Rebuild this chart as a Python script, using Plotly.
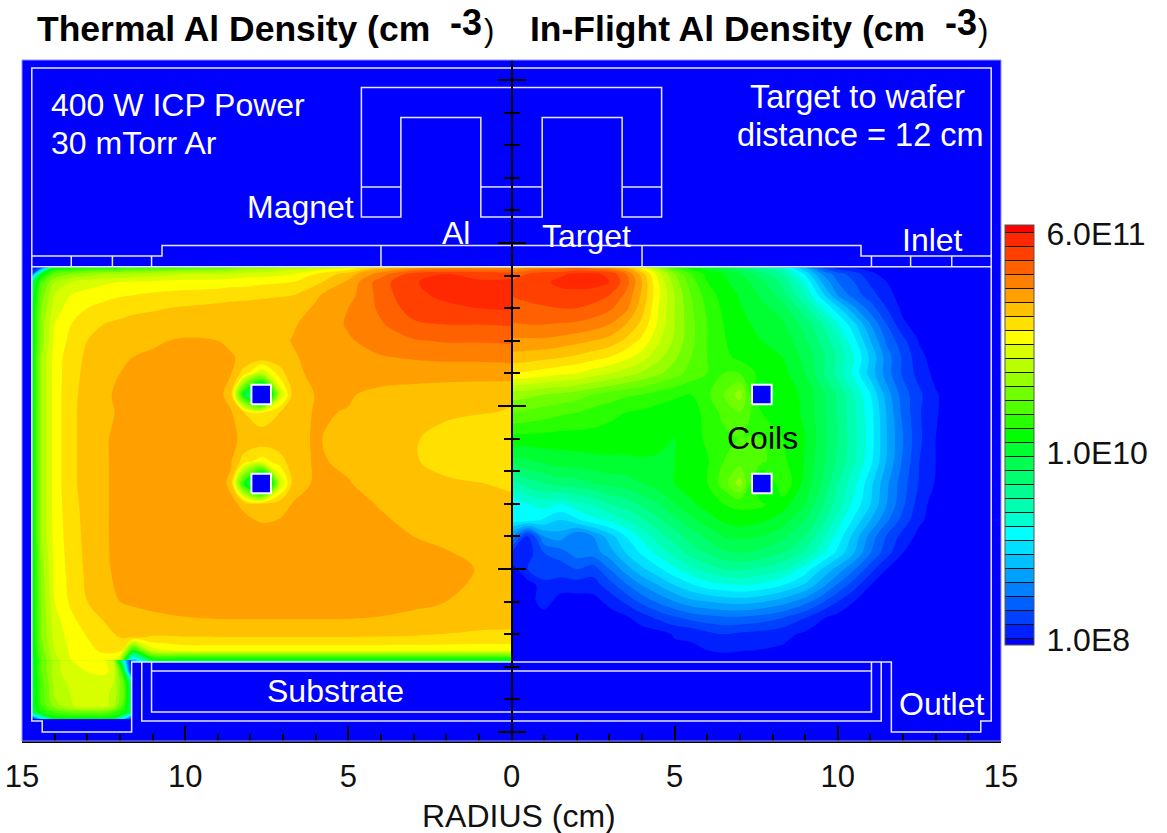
import plotly.graph_objects as go

FONT = "Liberation Sans"
BAND_COLORS = ["#0000FF","#0020FF","#0040FF","#0060FF","#0080FF","#00A0FF","#00C0FF","#00E0FF","#00FFFF","#00FFD0",
 "#00FFB0","#00FF90","#00FF70","#00FF50","#00FF30","#00FF00","#28FF00","#50FF00","#70FF00","#98FF00","#B8FF00",
 "#D8FF00","#FFFF00","#FFE000","#FFC000","#FFA000","#FF8000","#FF6000","#FF4000","#FF2800","#FF0000"]
BAR_TICK_BANDS = [0.86, 14.2, 29.9]
BAR_TICK_TEXT = ["1.0E8", "1.0E10", "6.0E11"]
RADIUS_TICKS = [-15, -10, -5, 0, 5, 10, 15]
RADIUS_LABELS = ["15", "10", "5", "0", "5", "10", "15"]

# colour-band number at each grid node (thermal Al, left half)
THERMAL_R = [-14.7,-14.4,-14,-13.5,-13,-12.5,-12,-11.6,-11,-10,-9,-8.6,-8.2,-7.65,-7.1,-6.7,-6,-5,-4,-3,-2,-1,0]
THERMAL_H = [14.25,14.05,13.8,13.4,13,12.5,12,11.5,11,10.35,9.8,9,8.3,7.62,7,6,5,4,3.4,2.9,2.5,2.15]
THERMAL = [
[.5,3,15,15.5,16,16,16.5,16.8,17,17.5,18,18.5,19,19.5,20,20.5,21,22,24.5,25.5,26,26,26],
[3,15,18,19,19.5,20,20,20.3,20.5,21,21,21.2,21.5,21.5,21.8,22,23,24.5,26.5,28.5,29,28.8,28.5],
[13,17.5,20,21,21.5,21.8,22,22.1,22.2,22.4,22.5,22.6,22.6,22.8,22.9,23,23.7,25.2,27.6,28.9,29.5,29.1,29.3],
[14,18.5,21,22,22.4,22.7,22.9,23,23.2,23.4,23.5,23.6,23.7,23.8,23.9,24,24.9,25.6,27.4,28.9,29.1,29.2,29.6],
[14.5,19,21.5,22.5,23,23.3,23.6,23.8,23.9,24.1,24.3,24.4,24.4,24.5,24.6,24.7,25.1,26,27.2,28.5,28.9,29,29.1],
[14.5,19.5,22,23,23.6,24,24.2,24.3,24.4,24.6,24.7,24.7,24.7,24.7,24.75,24.9,25.4,26.1,26.9,27.8,28,28,28.1],
[14.5,19.5,22.2,23.3,24,24.3,24.6,24.8,24.9,25.1,25,24.9,24.8,24.7,24.8,25.05,25.4,25.9,26.4,26.9,27.1,27.1,27.2],
[14.5,20,22.5,23.5,24.2,24.5,24.8,25,25.1,25.3,25.2,25.05,24.9,24.7,24.7,24.9,25.3,25.6,25.95,26.1,26.2,26.2,26.3],
[14.5,20,22.5,23.6,24.3,24.7,25,25.2,25.3,25.4,25.3,25.05,23.5,21,23.5,24.8,25.2,25.4,25.5,25.5,25.5,25.5,25.5],
[14.5,20,22.5,23.7,24.4,24.8,25.2,25.3,25.4,25.5,25.3,24.6,15,8,21,24.3,25.05,25.1,24.7,24.5,24.3,24.2,24.1],
[14.5,20,22.5,23.7,24.5,24.8,25.1,25.3,25.4,25.6,25.4,25.1,24,23,24,24.5,25.1,24.95,24.6,24.4,24.2,24.05,23.95],
[14.5,20,22.5,23.7,24.5,24.9,25.2,25.4,25.5,25.6,25.4,25.1,24.9,24.8,24.8,24.85,25.05,24.8,24.4,24.1,23.6,23.4,23.3],
[14.5,20,22.5,23.7,24.5,24.9,25.2,25.4,25.5,25.6,25.4,25.1,23.5,22.5,23.5,24.6,25.1,24.85,24.4,24.05,23.8,23.5,23.4],
[14.5,20,22.5,23.7,24.5,24.9,25.2,25.4,25.5,25.6,25.4,24.8,16,8,21,24.3,25.2,25.05,24.6,24.3,24.1,24.03,23.85],
[14.5,20,22.5,23.6,24.4,24.9,25.2,25.4,25.5,25.6,25.5,25.2,24.8,24.3,24.6,25.05,25.4,25.4,24.9,24.6,24.4,24.3,24.2],
[14.5,20,22.4,23.5,24.3,24.9,25.2,25.4,25.5,25.6,25.6,25.6,25.6,25.5,25.5,25.5,25.5,25.5,25.4,25,24.8,24.6,24.4],
[14.5,19.5,22.2,23.4,24.2,24.85,25.2,25.4,25.5,25.6,25.6,25.6,25.6,25.6,25.6,25.6,25.6,25.6,25.6,25.5,25.3,24.95,24.6],
[14.5,19.2,22,23.2,24,24.6,25,25.1,25.2,25.35,25.4,25.45,25.45,25.45,25.45,25.45,25.45,25.4,25.3,25.15,25,24.6,24.4],
[14.5,19,21.6,22.7,23.5,24,24.4,24.7,24.8,24.9,24.95,24.95,24.95,24.95,24.95,24.95,24.95,24.95,24.9,24.8,24.7,24.4,24.3],
[14.5,19,21.3,22.4,23,23.5,24,24.1,23.9,23.95,23.97,23.97,23.97,23.97,23.97,23.97,23.97,23.97,23.95,23.9,23.8,23.7,23.7],
[14.3,18.5,21,22.2,22.7,23.2,23.5,16,21.5,22.3,22.3,22.3,22.3,22.3,22.3,22.3,22.3,22.3,22.3,22.3,22.3,22.3,22.3],
[14,18,20.5,22,22.2,22.3,20,5,13,13,13,13,13,13,13,13,13,13,13,13,13,13,13],
]
POCKET_R = [-14.7,-14.4,-14,-13.5,-13,-12.5,-12.2,-11.9,-11.64]
POCKET_H = [2.2,1.85,1.5,1.1,.8,.6,.4]
POCKET = [
[14,18,20.5,22,22.2,22.3,21,10,.5],
[14,18,20.5,21.8,22,22.2,21.8,16,.5],
[14,17.5,20.3,21.3,21.6,21.5,21,18,12],
[14,17.5,20,21,21.2,21.2,20.8,18,13],
[14,17,19.5,20.8,22,21.5,20.5,17,13],
[13,16,17,18,18,18,17,16,13],
[.5,8,15,15,15,15,15,8,.5],
]
# in-flight Al, right half
FLIGHT_R = [0,.5,1,1.5,2,2.5,3,3.5,4,4.5,5,5.5,6,6.5,7,7.67,8.3,9,9.5,10,10.5,11,11.5,12,12.5,13,13.5,14.7]
FLIGHT_H = [14.25,14.05,13.8,13.4,13,12.5,12,11.5,11,10.35,9.8,9,8.3,7.62,7,6.5,6,5.5,5,4.5,4,3.5,3,2.15]
FLIGHT = [
[25,26,26.5,26.5,27,26.5,26,25,22.5,19.5,17,15.5,14.5,13.5,12.5,11,9.5,6,3,1.5,1,.5,.5,.5,.5,.5,.5,.5],
[27.5,28,28.5,28.8,29.2,29.2,28.8,27,24.5,21.5,19,17,15.7,15,14,12.5,11,7.8,5,3.4,2.5,1.3,.5,.5,.5,.5,.5,.5],
[28,28.4,28.8,29.3,29.5,29.4,29,27.5,25,22,19.5,17.5,16,15.2,14.5,13.3,11.8,9,6,4,3,1.8,1,.5,.5,.5,.5,.5],
[28,28.2,28.4,28.6,28.6,28.5,28,26.8,24.8,22.2,20,18,16.5,15.6,14.9,13.8,12.5,10,7.5,5,3.5,2.5,1.3,.6,.5,.5,.5,.5],
[27.7,27.8,27.9,28,28,27.7,27.2,26.3,24.4,22,20,18.2,16.8,15.8,15.1,14.3,13.5,11.3,9.3,7.3,5.2,3.5,2,.7,.5,.5,.5,.5],
[26.9,27,27,26.9,26.8,26.5,26,25,23.7,21.8,20,18.3,17,16,15.3,14.7,14.2,12.6,11,9.2,7.3,5,3,1.2,.5,.5,.5,.5],
[25.8,25.8,25.8,25.6,25.3,25,24.6,23.8,22.7,21.2,19.8,18.3,17,16.1,15.5,15,14.7,13.2,11.8,10.2,8.3,6,3.8,2.3,.9,.5,.5,.5],
[24.6,24.5,24.3,24.1,23.8,23.4,23,22.3,21.5,20.3,19.2,18,17,16.3,15.7,15.2,15,13.7,12.4,10.8,9,6.8,4.5,2.8,1.3,.5,.5,.5],
[23,22.8,22.5,22.2,22,21.5,21,20.5,19.8,19.2,18.4,17.6,17,17,17,15.6,15.4,14,12.3,10.6,8.7,6.6,4.5,2.8,1.6,.7,.5,.5],
[19.5,19.3,19,18.8,18.5,18,17.6,17.2,17,16.5,16.2,16,16.8,18,19.5,14,15.5,14.8,13.3,11.8,10,8,5.5,3.5,2.2,1.1,.5,.5],
[18,17.8,17.5,17.2,17,16.6,16.3,16,15.8,15.6,15.4,15.6,16.3,17.3,18,16,15.7,14.8,13.4,11.9,10.2,8.4,5.9,3.7,2.1,1.1,.5,.5],
[15.7,15.6,15.6,15.5,15.5,15.6,15.5,15.5,15.4,15.2,15,15.5,16.2,16.7,17,17,16,15,13.5,12,10.3,8.5,6,4,2.2,1,.5,.5],
[13.5,13.8,14.2,14.5,14.6,14.7,14.8,14.8,14.9,14.9,15,15.3,15.9,17,17.6,17.2,16.3,14.9,13.3,11.8,10.2,8.3,5.9,3.8,2,1,.5,.5],
[10.5,11.5,12,12.5,12.5,13,13.3,13.5,14,14.5,15,15.5,16,17.5,19.5,14,17,14.6,13,11,9.3,7.3,5.2,3.4,1.9,.9,.5,.5],
[8,9,9.5,9,9.8,10.2,11,11.5,12.3,13,14,14.8,15.5,16,16.3,16.2,15.5,14,12.2,10.5,8.7,7,5,3.2,1.5,.5,.5,.5],
[8.5,8.5,7.8,7,7.8,8.7,9.2,10,10.8,11.8,12.8,13.7,14.5,15.2,15.5,15.2,14.5,13,11.5,9.6,7.8,6,4.2,2.6,1.2,.5,.5,.5],
[5,1.5,5,5.5,4,5,6.5,8,9.3,10.5,11.5,12.5,13.3,14,14.2,14,13.3,12,10.3,8.6,6.6,4.6,2.9,1.6,.7,.5,.5,.5],
[2,1.5,3,3.5,4.5,4.5,5.5,7,8.2,9.3,10.4,11.4,12.1,12.8,13,12.7,12,10.8,9.3,7.7,6,4,2.4,1,.5,.5,.5,.5],
[.5,2,3,2.5,3,2.5,4,5.5,6.8,7.8,8.8,9.8,10.5,11,11.2,10.8,10.2,8.6,7,5.6,4.1,2.4,1,.5,.5,.5,.5,.5],
[.5,.5,1.5,1.5,1.5,1.5,2.5,3.8,5,6,7,7.8,8.5,8.8,9,8.7,8,6.8,5.4,3.8,2.4,1,.5,.5,.5,.5,.5,.5],
[.5,.5,1.5,.5,.5,.6,1.3,2.2,3.3,4.2,5,5.7,6,6.3,6.4,6.1,5.5,4.4,3.2,2,1,.5,.5,.5,.5,.5,.5,.5],
[.5,.5,.5,.5,.5,.5,.5,.8,1.5,2.2,2.8,3.3,3.6,3.8,3.8,3.5,3,2,1.1,.6,.5,.5,.5,.5,.5,.5,.5,.5],
[.5,.5,.5,.5,.5,.5,.5,.5,.5,.6,1.1,1.2,1.7,2,1.8,1.6,1.3,.8,.5,.5,.5,.5,.5,.5,.5,.5,.5,.5],
[.5,.5,.5,.5,.5,.5,.5,.5,.5,.5,.5,.5,.5,.5,.5,.5,.5,.5,.5,.5,.5,.5,.5,.5,.5,.5,.5,.5],
]
for name, grid, xs, ys in [("T",THERMAL,THERMAL_R,THERMAL_H),("P",POCKET,POCKET_R,POCKET_H),("F",FLIGHT,FLIGHT_R,FLIGHT_H)]:
    assert len(grid)==len(ys), name
    for row in grid: assert len(row)==len(xs), (name,row)

# reactor geometry outlines (left half, cm); the right half mirrors it
OUT_X = [0,-14.7,-14.7,-14.38,-14.38,-11.64,-11.64,0,None,-11.33,-11.33,0,None,0,-11.03,None,-11.03,-11.03,0,None,
 -14.7,0,None,-14.7,-10.71,-10.71,0,None,-4,-4,None,-13.49,-13.49,None,-12.23,-12.23,None,-11.03,-11.03,None,
 0,-4.6,-4.6,-3.39,-3.39,-.94,-.94,0,None,-4.6,-3.39,None,-.94,0]
OUT_Y = [20.37,20.37,.34,.34,0,0,2.15,2.15,None,2.15,.34,.34,None,1.87,1.87,None,2.15,.61,.61,None,
 14.27,14.27,None,14.6,14.6,14.92,14.92,None,14.92,14.27,None,14.6,14.27,None,14.6,14.27,None,14.6,14.27,None,
 19.77,19.77,15.8,15.8,18.85,18.85,15.8,15.8,None,16.72,16.72,None,16.72,16.72]
COIL_R = [-7.67, 7.67]
COIL_H = [10.35, 7.62]
COIL_HALF = 0.3

PX_CM = 32.6
Y_LOW, Y_HIGH = -9/PX_CM, 672/PX_CM

scale = [[i/30, c] for i, c in enumerate(BAND_COLORS)]
common = dict(colorscale=scale, zmin=.5, zmax=30.5, autocontour=False,
              contours=dict(start=1, end=30, size=1, coloring="fill", showlines=False),
              line=dict(width=0), showscale=False, hoverinfo="skip")
fig = go.Figure()
fig.add_trace(go.Contour(x=THERMAL_R, y=THERMAL_H, z=THERMAL, **common))
fig.add_trace(go.Contour(x=POCKET_R, y=POCKET_H, z=POCKET, **common))
fig.add_trace(go.Contour(x=FLIGHT_R, y=FLIGHT_H, z=FLIGHT, **common))
# colour bar comes from a contour whose nodes lie beyond the axis range
fig.add_trace(go.Contour(x=[100,101], y=[0,1], z=[[0,31],[31,0]], yaxis="y2", colorscale=scale, zmin=.5, zmax=30.5,
    autocontour=False, contours=dict(start=1,end=30,size=1,coloring="fill"), line=dict(width=1,color="#111"),
    hoverinfo="skip", colorbar=dict(x=(1005-22)/979, xanchor="left", xpad=0, ypad=0, y=(741-645)/681, yanchor="bottom",
        thickness=29, thicknessmode="pixels", len=420, lenmode="pixels", tickmode="array",
        tickvals=BAR_TICK_BANDS, ticktext=BAR_TICK_TEXT, ticks="outside", ticklen=6, tickcolor="rgba(0,0,0,0)",
        tickfont=dict(family=FONT, size=32, color="#111"), outlinecolor="#555", outlinewidth=1)))
ox = OUT_X + [None] + [None if v is None else -v for v in OUT_X]
oy = OUT_Y + [None] + OUT_Y
fig.add_trace(go.Scatter(x=ox, y=oy, mode="lines", line=dict(color="#E6E6FF", width=1.5), hoverinfo="skip", showlegend=False))
for r in COIL_R:
    for h in COIL_H:
        fig.add_trace(go.Scatter(x=[r-COIL_HALF,r+COIL_HALF,r+COIL_HALF,r-COIL_HALF,r-COIL_HALF],
            y=[h-COIL_HALF,h-COIL_HALF,h+COIL_HALF,h+COIL_HALF,h-COIL_HALF], mode="lines", fill="toself",
            fillcolor="#0000FF", line=dict(color="white", width=2), hoverinfo="skip", showlegend=False))

def note(px, py, text, size=32, color="white", bold=False, anchor="left"):
    t = f"<b>{text}</b>" if bold else text
    fig.add_annotation(xref="paper", yref="paper", x=(px-22)/979, y=(741-py)/681, text=t, showarrow=False,
        xanchor=anchor, yanchor="middle", align="left", borderpad=0, borderwidth=0,
        font=dict(family=FONT, size=size, color=color))

note(37, 29, "Thermal Al Density (cm", 35.5, "black", True)
note(450, 22, "-3", 36, "black", True)
note(484, 30, ")", 31, "black")
note(530, 29, "In-Flight Al Density (cm", 35.5, "black", True)
note(945, 22, "-3", 36, "black", True)
note(978, 30, ")", 31, "black")
note(51, 105, "400 W ICP Power")
note(51, 143, "30 mTorr Ar")
note(247, 207, "Magnet")
note(442, 233, "Al")
note(542, 236, "Target")
note(750, 97, "Target to wafer", 32.5)
note(737, 135, "distance = 12 cm", 32.5)
note(902, 240, "Inlet")
note(727, 438, "Coils", color="black")
note(267, 691, "Substrate")
note(899, 704, "Outlet")
note(422, 816, "RADIUS (cm)", 32, "#111")

yax = dict(range=[Y_LOW, Y_HIGH], anchor="free", position=.5, showgrid=False, zeroline=False, showticklabels=False, automargin=False,
           showline=True, linecolor="black", linewidth=2, ticks="outside", tick0=0, dtick=5, ticklen=13, tickwidth=1.5,
           tickcolor="black", minor=dict(ticks="outside", dtick=1, tick0=0, ticklen=7, tickwidth=1.5, tickcolor="black"))
fig.update_layout(
    width=1167, height=833, margin=dict(l=22, r=166, t=60, b=92, autoexpand=False), plot_bgcolor="#0000FF", paper_bgcolor="white",
    showlegend=False, font=dict(family=FONT, color="#111"),
    xaxis=dict(range=[-15,15], tickmode="array", tickvals=RADIUS_TICKS, ticktext=RADIUS_LABELS, ticks="inside", ticklen=15,
        tickwidth=1.5, tickcolor="black", showline=True, linecolor="black", linewidth=1.5, showgrid=False, zeroline=False,
        automargin=False, ticklabelstandoff=7, tickfont=dict(family=FONT, size=31, color="#111"),
        minor=dict(ticks="inside", tickmode="linear", dtick=1, tick0=0, ticklen=7, tickwidth=1.5, tickcolor="black")),
    yaxis=dict(side="left", **yax),
    yaxis2=dict(overlaying="y", side="right", **yax),
    shapes=[dict(type="rect", xref="paper", yref="paper", x0=0, x1=1, y0=0, y1=1, line=dict(color="#9090FF", width=1))],
)
fig.write_html("out.html", config=dict(displayModeBar=False),
               post_script="document.body.style.margin='0';document.body.style.overflow='hidden';")
